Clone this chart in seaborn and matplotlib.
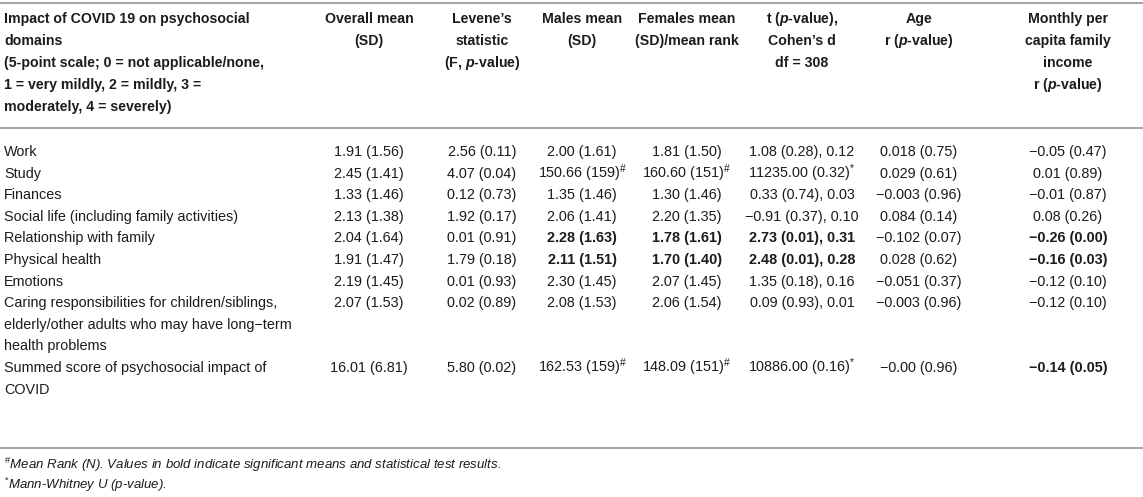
import matplotlib
matplotlib.use("Agg")
import matplotlib.pyplot as plt
import seaborn as sns

# ---------------- data ----------------
domains = [
    "Work",
    "Study",
    "Finances",
    "Social life (including family activities)",
    "Relationship with family",
    "Physical health",
    "Emotions",
    "Caring responsibilities for children/siblings,\nelderly/other adults who may have long\u2212term\nhealth problems",
    "Summed score of psychosocial impact of\nCOVID",
]
overall_mean = ["1.91 (1.56)", "2.45 (1.41)", "1.33 (1.46)", "2.13 (1.38)", "2.04 (1.64)",
                "1.91 (1.47)", "2.19 (1.45)", "2.07 (1.53)", "16.01 (6.81)"]
levene = ["2.56 (0.11)", "4.07 (0.04)", "0.12 (0.73)", "1.92 (0.17)", "0.01 (0.91)",
          "1.79 (0.18)", "0.01 (0.93)", "0.02 (0.89)", "5.80 (0.02)"]
males_mean = ["2.00 (1.61)", "150.66 (159)$^{\\#}$", "1.35 (1.46)", "2.06 (1.41)", "2.28 (1.63)",
              "2.11 (1.51)", "2.30 (1.45)", "2.08 (1.53)", "162.53 (159)$^{\\#}$"]
females_mean = ["1.81 (1.50)", "160.60 (151)$^{\\#}$", "1.30 (1.46)", "2.20 (1.35)", "1.78 (1.61)",
                "1.70 (1.40)", "2.07 (1.45)", "2.06 (1.54)", "148.09 (151)$^{\\#}$"]
t_test = ["1.08 (0.28), 0.12", "11235.00 (0.32)$^{*}$", "0.33 (0.74), 0.03", "\u22120.91 (0.37), 0.10",
          "2.73 (0.01), 0.31", "2.48 (0.01), 0.28", "1.35 (0.18), 0.16", "0.09 (0.93), 0.01",
          "10886.00 (0.16)$^{*}$"]
age_r = ["0.018 (0.75)", "0.029 (0.61)", "\u22120.003 (0.96)", "0.084 (0.14)", "\u22120.102 (0.07)",
         "0.028 (0.62)", "\u22120.051 (0.37)", "\u22120.003 (0.96)", "\u22120.00 (0.96)"]
income_r = ["\u22120.05 (0.47)", "0.01 (0.89)", "\u22120.01 (0.87)", "0.08 (0.26)", "\u22120.26 (0.00)",
            "\u22120.16 (0.03)", "\u22120.12 (0.10)", "\u22120.12 (0.10)", "\u22120.14 (0.05)"]

# (row, value-column) cells shown in bold
bold_cells = [(4, 2), (4, 3), (4, 4), (4, 6), (5, 2), (5, 3), (5, 4), (5, 6), (8, 6)]

headers = [
    "Impact of COVID 19 on psychosocial\ndomains\n(5-point scale; 0 = not applicable/none,\n1 = very mildly, 2 = mildly, 3 =\nmoderately, 4 = severely)",
    "Overall mean\n(SD)",
    "Levene\u2019s\nstatistic\n(F, $\\mathit{p}$-value)",
    "Males mean\n(SD)",
    "Females mean\n(SD)/mean rank",
    "t ($\\mathit{p}$-value),\nCohen\u2019s d\ndf = 308",
    "Age\nr ($\\mathit{p}$-value)",
    "Monthly per\ncapita family\nincome\nr ($\\mathit{p}$-value)",
]
footnotes = [
    "$^{\\#}$Mean Rank (N). Values in bold indicate significant means and statistical test results.",
    "$^{*}$Mann-Whitney U (p-value).",
]

# ---------------- style ----------------
sns.set_theme(style="white")
plt.rcParams["font.family"] = ["Liberation Sans", "DejaVu Sans"]
plt.rcParams["mathtext.fontset"] = "custom"
plt.rcParams["mathtext.rm"] = "Liberation Sans"
plt.rcParams["mathtext.it"] = "Liberation Sans:italic:bold"
plt.rcParams["mathtext.bf"] = "Liberation Sans:bold"
plt.rcParams["mathtext.default"] = "rm"

W, H = 1143, 497
fig = plt.figure(figsize=(W / 100, H / 100), dpi=100)
ax = fig.add_axes([0, 0, 1, 1])
ax.set_xlim(0, W)
ax.set_ylim(H, 0)
ax.axis("off")

FS = 10.4
FSH = 10.2
TXT = "#1c1c1c"
LINE = "#a6a6a6"
LH = 21.6

left_x = 4
col_x = [369, 482, 582, 687, 802, 919, 1068]

# rules
for y in (3, 128, 448):
    ax.plot([0, W], [y, y], color=LINE, lw=1.5, solid_capstyle="butt")

# headers
hb = 23
for i, line in enumerate(headers[0].split("\n")):
    ax.text(left_x, hb + i * (LH + 0.3), line, ha="left", va="baseline",
            fontsize=FSH, fontweight="bold", color=TXT)
for c, h in enumerate(headers[1:]):
    for i, line in enumerate(h.split("\n")):
        ax.text(col_x[c], hb + i * (LH + 0.3), line, ha="center", va="baseline",
                fontsize=FSH, fontweight="bold", color=TXT)

# body
columns = [overall_mean, levene, males_mean, females_mean, t_test, age_r, income_r]
y = 156
for r, dom in enumerate(domains):
    lines = dom.split("\n")
    for i, line in enumerate(lines):
        ax.text(left_x, y + i * LH, line, ha="left", va="baseline", fontsize=FS, color=TXT)
    for c, col in enumerate(columns):
        bold = (r, c) in bold_cells
        ax.text(col_x[c], y, col[r], ha="center", va="baseline", fontsize=FS,
                fontweight="bold" if bold else "normal", color=TXT)
    y += LH * len(lines)

# footnotes
ax.text(4, 469, footnotes[0], ha="left", va="baseline", fontsize=9.5, style="italic", color=TXT)
ax.text(4, 489.5, footnotes[1], ha="left", va="baseline", fontsize=9.5, style="italic", color=TXT)

fig.savefig("out.png", dpi=100, facecolor="white")
